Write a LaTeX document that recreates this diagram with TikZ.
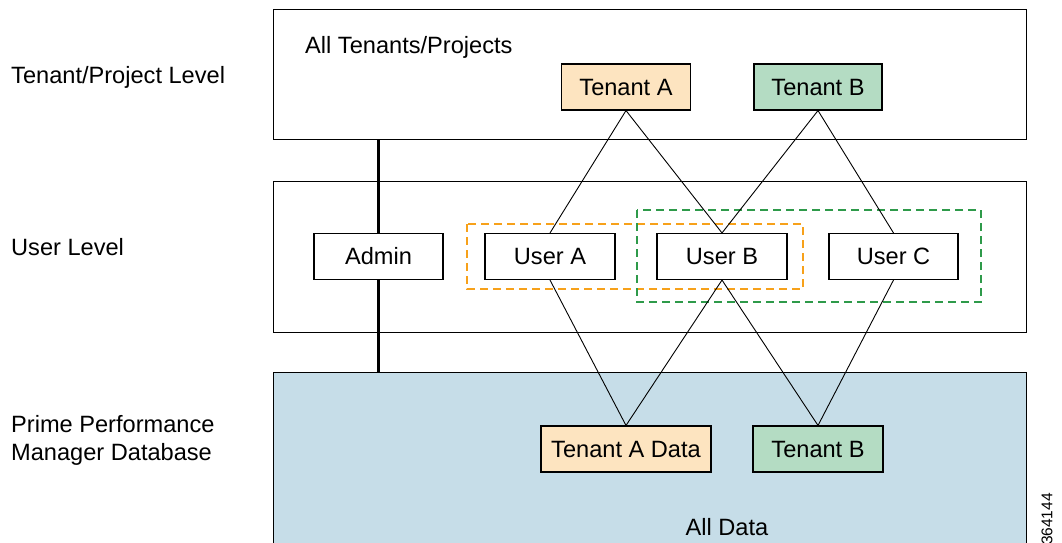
\documentclass[tikz,border=0pt]{standalone}
\usepackage{fontspec}
\setmainfont{Liberation Sans}
\usetikzlibrary{backgrounds}
\definecolor{peach}{HTML}{FDE4C0}
\definecolor{mint}{HTML}{B4DCC3}
\definecolor{dbblue}{HTML}{C6DDE8}
\definecolor{dashorange}{HTML}{F7A11A}
\definecolor{dashgreen}{HTML}{2E9A4A}
\newcommand{\mainfs}{\fontsize{23.6}{28}\selectfont}
\begin{document}
\begin{tikzpicture}[x=1pt,y=-1pt,
  panel/.style={draw, line width=1.2pt, anchor=north west, inner sep=0pt, minimum width=753},
  ubox/.style={draw, line width=1.1pt, fill=white, minimum height=46, inner sep=0pt, font=\mainfs},
  lbl/.style={anchor=base west, inner sep=0pt, font=\mainfs},
  link/.style={line width=0.9pt},
  grp/.style={line width=1.8pt, dash pattern=on 8pt off 5pt}]
\useasboundingbox (0,0) rectangle (1062,543);

% panels
\node[panel, minimum height=130] (top) at (273,9) {};
\node[panel, minimum height=151] (mid) at (273,181) {};
\node[panel, minimum height=190, fill=dbblue] (bot) at (273,372) {};

% level labels
\node[lbl] (l1) at (11,83) {Tenant/Project Level};
\node[lbl] (l2) at (11,255) {User Level};
\node[lbl] (l3a) at (11,432) {Prime Performance};
\node[lbl] (l3b) at (11,460) {Manager Database};

\node[lbl] (allt) at (305,53) {All Tenants/Projects};
\node[anchor=base, inner sep=0pt, font=\mainfs] (alld) at (727,535) {All Data};

% tenant boxes
\node[ubox, fill=peach, minimum width=129] (ta) at (626,87) {Tenant A};
\node[ubox, fill=mint, minimum width=128] (tb) at (818,87) {Tenant B};

% user boxes
\node[ubox, minimum width=129] (admin) at (378.5,256.5) {Admin};
\node[ubox, minimum width=130] (ua) at (550,256.5) {User A};
\node[ubox, minimum width=130] (ub) at (722,256.5) {User B};
\node[ubox, minimum width=129] (uc) at (893.5,256.5) {User C};

% data boxes
\node[ubox, fill=peach, minimum width=170] (tad) at (626,449) {Tenant A Data};
\node[ubox, fill=mint, minimum width=130] (tbd) at (818,449) {Tenant B};

% admin thick line behind admin box
\begin{scope}[on background layer]
\draw[line width=2.6pt] (admin.center |- top.south) -- (admin.center |- bot.north);
\end{scope}

% groups
\draw[grp, dashorange] (467,224) rectangle (803,289);
\draw[grp, dashgreen] (637,210) rectangle (981,302);

% connectors
\draw[link] (ta.south) -- (ua.north);
\draw[link] (ta.south) -- (ub.north);
\draw[link] (tb.south) -- (ub.north);
\draw[link] (tb.south) -- (uc.north);
\draw[link] (ua.south) -- (tad.north);
\draw[link] (ub.south) -- (tad.north);
\draw[link] (ub.south) -- (tbd.north);
\draw[link] (uc.south) -- (tbd.north);

% figure number
\node[rotate=90, anchor=east, inner sep=0pt, font=\fontsize{15.5}{18}\selectfont] (fig) at (1047,493) {364144};
\end{tikzpicture}
\end{document}
